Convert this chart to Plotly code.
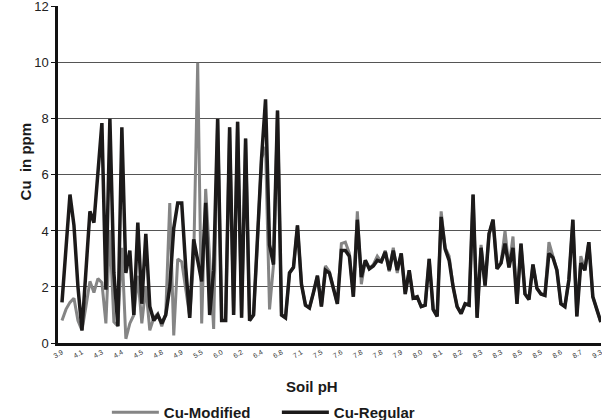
import plotly.graph_objects as go

tick_labels = ["3.9", "4.1", "4.3", "4.4", "4.5", "4.8", "4.9", "5.5", "6.0", "6.2",
               "6.4", "6.8", "7.1", "7.5", "7.6", "7.8", "7.8", "7.9", "8.0", "8.1",
               "8.2", "8.3", "8.3", "8.5", "8.5", "8.6", "8.7", "9.3"]

cu_regular = [1.45, 3.3, 5.3, 4.2, 2.0, 0.45, 2.5, 4.7, 4.3, 6.0,
              7.85, 1.9, 8.0, 2.5, 0.6, 7.7, 2.5, 3.3, 1.0, 4.3,
              1.4, 3.9, 1.3, 0.8, 1.0, 0.7, 1.0, 2.0, 4.1, 5.0,
              5.0, 2.7, 0.9, 3.7, 3.0, 2.2, 5.0, 1.0, 2.6, 8.0,
              0.8, 0.8, 7.7, 1.0, 7.9, 0.9, 7.3, 0.8, 1.0, 3.7,
              6.6, 8.7, 3.5, 2.8, 8.3, 1.0, 0.9, 2.5, 2.7, 4.2,
              2.1, 1.35, 1.25, 1.8, 2.4, 1.3, 2.6, 2.5, 2.0, 1.4,
              3.3, 3.3, 3.1, 1.65, 4.4, 2.35, 2.95, 2.65, 2.75, 2.95,
              2.9, 3.25, 2.6, 3.3, 2.6, 3.2, 1.75, 2.6, 1.6, 1.65,
              1.3, 1.35, 3.0, 1.2, 0.95, 4.5, 3.35, 2.95, 2.0, 1.3,
              1.05, 1.4, 1.35, 5.3, 0.9, 3.4, 2.05, 3.9, 4.4, 2.65,
              2.85, 3.55, 2.7, 3.4, 1.4, 3.55, 1.75, 1.55, 2.8, 1.95,
              1.75, 1.7, 3.2, 3.05, 2.6, 1.4, 1.3, 2.25, 4.4, 0.95,
              2.85, 2.6, 3.6, 1.65, 1.2, 0.75]

cu_modified = [0.8, 1.2, 1.45, 1.6, 0.8, 0.45, 1.3, 2.2, 1.8, 2.3,
               2.15, 0.7, 4.0, 0.75, 0.6, 3.4, 0.15, 0.7, 1.0, 2.4,
               0.7, 2.0, 0.45, 0.9, 1.05, 0.6, 1.05, 5.0, 0.27, 3.0,
               2.9, 1.9, 0.95, 3.0, 10.0, 0.7, 5.5, 3.0, 0.5, 8.0,
               0.8, 0.8, 7.7, 1.0, 7.9, 0.9, 7.3, 0.8, 1.0, 3.7,
               6.6, 7.0, 1.2, 2.8, 8.3, 1.0, 0.9, 2.5, 2.7, 4.2,
               2.1, 1.35, 1.25, 1.8, 2.4, 1.3, 2.75, 2.55, 2.0, 1.4,
               3.55, 3.6, 3.2, 1.65, 4.7, 2.1, 2.95, 2.65, 2.8, 3.1,
               2.9, 3.3, 2.55, 3.4, 2.5, 3.2, 1.75, 2.6, 1.6, 1.65,
               1.3, 1.35, 3.0, 1.2, 0.95, 4.7, 3.4, 3.1, 2.0, 1.3,
               1.05, 1.4, 1.35, 5.3, 0.9, 3.5, 2.05, 3.9, 4.4, 2.65,
               2.85, 4.0, 2.7, 3.8, 1.4, 3.55, 1.75, 1.55, 2.8, 1.95,
               1.75, 1.7, 3.6, 3.1, 2.6, 1.4, 1.3, 2.25, 4.4, 0.95,
               3.1, 2.6, 3.6, 1.65, 1.2, 0.75]

y_ticks = [0, 2, 4, 6, 8, 10, 12]

idx = list(range(len(cu_regular)))
tick_pos = idx[::5]

fig = go.Figure()
fig.add_trace(go.Scatter(x=idx, y=cu_modified, mode="lines", name="Cu-Modified",
                         line=dict(color="#858585", width=3)))
fig.add_trace(go.Scatter(x=idx, y=cu_regular, mode="lines", name="Cu-Regular",
                         line=dict(color="#1c1a1a", width=3.5)))

fig.update_layout(
    width=602, height=420,
    margin=dict(l=58, r=1, t=6, b=77, autoexpand=False),
    paper_bgcolor="white", plot_bgcolor="white",
    font=dict(family="Liberation Sans, Arial, sans-serif", color="#1a1a1a"),
    showlegend=True,
    legend=dict(orientation="h", x=0.09, xanchor="left", y=-0.157, yanchor="top",
                font=dict(size=15, family="Liberation Sans, Arial, sans-serif", weight="bold"),
                itemwidth=47, entrywidth=108, entrywidthmode="pixels", tracegroupgap=0),
    xaxis=dict(range=[-1, 135.05], tickmode="array", tickvals=tick_pos, ticktext=tick_labels,
               tickangle=-30, tickfont=dict(size=7, color="#333"), showgrid=False,
               showline=True, linecolor="#111", linewidth=2.5, ticks="", zeroline=False,
               automargin=False, ticklabeloverflow="allow"),
    yaxis=dict(range=[0, 12.03], tickvals=y_ticks, tickfont=dict(size=13, color="#222"),
               showgrid=True, gridcolor="#555", gridwidth=1, automargin=False,
               showline=True, linecolor="#111", linewidth=2.5, ticks="outside",
               ticklen=4, tickcolor="#111", zeroline=False, ticklabeloverflow="allow"),
    annotations=[
        dict(text="<b>Soil pH</b>", xref="paper", yref="paper", x=0.468, y=-0.128,
             xanchor="center", yanchor="middle", showarrow=False,
             font=dict(size=15, color="#1a1a1a")),
        dict(text="<b>Cu  in ppm</b>", xref="paper", yref="paper", x=-0.06, y=0.54,
             xanchor="center", yanchor="middle", showarrow=False, textangle=-90,
             font=dict(size=15, color="#1a1a1a")),
    ],
)

fig.write_html("out.html")
